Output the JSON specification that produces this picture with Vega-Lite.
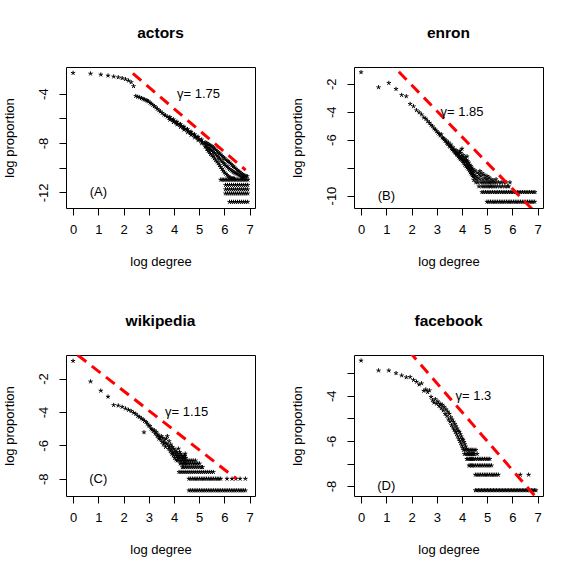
{
"$schema": "https://vega.github.io/schema/vega-lite/v6.json",
"background": "white",
"padding": {"left": 2, "top": 25, "right": 0, "bottom": 0},
"bounds": "flush",
"columns": 2,
"spacing": {"row": 147, "column": 99},
"datasets": {
"A": [
{"x":0,"y":-2.33},{"x":0.693,"y":-2.38},{"x":1.099,"y":-2.46},{"x":1.386,"y":-2.54},{"x":1.609,"y":-2.62},{"x":1.792,"y":-2.68},{"x":1.946,"y":-2.75},{"x":2.079,"y":-2.84},{"x":2.197,"y":-2.95},{"x":2.303,"y":-3.08},{"x":2.398,"y":-3.4},
{"x":2.485,"y":-4.2},{"x":2.565,"y":-4.26},{"x":2.64,"y":-4.31},{"x":2.71,"y":-4.37},{"x":2.77,"y":-4.43},{"x":2.83,"y":-4.48},{"x":2.89,"y":-4.53},{"x":2.94,"y":-4.58},{"x":2.99,"y":-4.64},{"x":3.05,"y":-4.74},{"x":3.1,"y":-4.83},{"x":3.16,"y":-4.92},{"x":3.22,"y":-5.02},{"x":3.28,"y":-5.12},{"x":3.34,"y":-5.24},{"x":3.4,"y":-5.35},{"x":3.46,"y":-5.45},{"x":3.53,"y":-5.57},{"x":3.6,"y":-5.7},{"x":3.66,"y":-5.77},{"x":3.73,"y":-5.87},{"x":3.8,"y":-5.97},{"x":3.87,"y":-6.06},{"x":3.94,"y":-6.16},{"x":4.01,"y":-6.25},{"x":4.08,"y":-6.35},{"x":4.15,"y":-6.44},{"x":4.22,"y":-6.54},{"x":4.29,"y":-6.63},{"x":4.36,"y":-6.74},{"x":4.43,"y":-6.85},{"x":4.5,"y":-6.95},{"x":4.57,"y":-7.05},{"x":4.64,"y":-7.16},{"x":4.71,"y":-7.26},{"x":4.78,"y":-7.37},{"x":4.85,"y":-7.47},{"x":4.92,"y":-7.58},{"x":4.99,"y":-7.7},{"x":5.06,"y":-7.82},{"x":5.13,"y":-7.94},{"x":5.2,"y":-8.06},{"x":5.27,"y":-8.19},
{"x":3.835,"y":-5.9},{"x":3.835,"y":-6.12},{"x":3.975,"y":-6.09},{"x":3.975,"y":-6.31},{"x":4.115,"y":-6.28},{"x":4.115,"y":-6.5},{"x":4.255,"y":-6.47},{"x":4.255,"y":-6.71},{"x":4.395,"y":-6.68},{"x":4.395,"y":-6.92},{"x":4.535,"y":-6.88},{"x":4.535,"y":-7.14},{"x":4.675,"y":-7.09},{"x":4.675,"y":-7.35},{"x":4.815,"y":-7.3},{"x":4.815,"y":-7.56},{"x":4.955,"y":-7.5},{"x":4.955,"y":-7.78},{"x":5.095,"y":-7.72},{"x":5.095,"y":-8.04},{"x":5.235,"y":-7.95},{"x":5.235,"y":-8.3},
{"x":5.3,"y":-8.0},{"x":5.3,"y":-8.25},{"x":5.3,"y":-8.5},{"x":5.35,"y":-8.1},{"x":5.35,"y":-8.4},{"x":5.35,"y":-8.65},{"x":5.4,"y":-8.15},{"x":5.4,"y":-8.45},{"x":5.4,"y":-8.75},{"x":5.45,"y":-8.22},{"x":5.45,"y":-8.55},{"x":5.45,"y":-8.9},{"x":5.5,"y":-8.28},{"x":5.5,"y":-8.62},{"x":5.5,"y":-9.0},{"x":5.55,"y":-8.35},{"x":5.55,"y":-8.72},{"x":5.55,"y":-9.1},{"x":5.6,"y":-8.45},{"x":5.6,"y":-8.82},{"x":5.6,"y":-9.25},{"x":5.65,"y":-8.55},{"x":5.65,"y":-8.92},{"x":5.65,"y":-9.4},{"x":5.7,"y":-8.65},{"x":5.7,"y":-9.02},{"x":5.7,"y":-9.5},{"x":5.75,"y":-8.75},{"x":5.75,"y":-9.15},{"x":5.75,"y":-9.65},{"x":5.8,"y":-8.85},{"x":5.8,"y":-9.27},{"x":5.8,"y":-9.8},{"x":5.85,"y":-8.95},{"x":5.85,"y":-9.4},{"x":5.85,"y":-9.95},{"x":5.9,"y":-9.05},{"x":5.9,"y":-9.5},{"x":5.9,"y":-10.1},{"x":5.95,"y":-9.15},{"x":5.95,"y":-9.62},{"x":5.95,"y":-10.25},{"x":6.0,"y":-9.25},{"x":6.0,"y":-9.72},{"x":6.0,"y":-10.4},{"x":6.05,"y":-9.35},{"x":6.05,"y":-9.85},{"x":6.05,"y":-10.5},{"x":6.1,"y":-9.45},{"x":6.1,"y":-9.92},{"x":6.1,"y":-10.6},{"x":6.15,"y":-9.5},{"x":6.15,"y":-10.02},{"x":6.15,"y":-10.7},{"x":6.2,"y":-9.6},{"x":6.2,"y":-10.12},{"x":6.2,"y":-10.8},{"x":6.25,"y":-9.7},{"x":6.25,"y":-10.2},{"x":6.25,"y":-10.83},{"x":6.3,"y":-9.8},{"x":6.3,"y":-10.27},{"x":6.3,"y":-10.86},{"x":6.35,"y":-9.9},{"x":6.35,"y":-10.36},{"x":6.35,"y":-10.88},{"x":6.4,"y":-10.0},{"x":6.4,"y":-10.42},{"x":6.4,"y":-10.9},{"x":6.45,"y":-10.1},{"x":6.45,"y":-10.47},{"x":6.5,"y":-10.2},{"x":6.5,"y":-10.52},{"x":6.55,"y":-10.28},{"x":6.55,"y":-10.58},{"x":6.6,"y":-10.35},{"x":6.6,"y":-10.64},{"x":6.65,"y":-10.45},{"x":6.65,"y":-10.72},{"x":6.7,"y":-10.52},{"x":6.7,"y":-10.77},{"x":6.75,"y":-10.6},{"x":6.75,"y":-10.82},{"x":6.8,"y":-10.65},{"x":6.8,"y":-10.86},{"x":6.85,"y":-10.68},{"x":6.9,"y":-10.7},
{"x":5.85,"y":-10.98},{"x":5.91,"y":-10.98},{"x":5.97,"y":-10.98},{"x":6.03,"y":-10.98},{"x":6.09,"y":-10.98},{"x":6.15,"y":-10.98},{"x":6.21,"y":-10.98},{"x":6.27,"y":-10.98},{"x":6.33,"y":-10.98},{"x":6.39,"y":-10.98},{"x":6.45,"y":-10.98},{"x":6.51,"y":-10.98},{"x":6.57,"y":-10.98},{"x":6.63,"y":-10.98},{"x":6.69,"y":-10.98},{"x":6.75,"y":-10.98},{"x":6.81,"y":-10.98},{"x":6.87,"y":-10.98},{"x":6.93,"y":-10.98},
{"x":6.04,"y":-11.41},{"x":6.12,"y":-11.41},{"x":6.2,"y":-11.41},{"x":6.28,"y":-11.41},{"x":6.36,"y":-11.41},{"x":6.44,"y":-11.41},{"x":6.52,"y":-11.41},{"x":6.6,"y":-11.41},{"x":6.68,"y":-11.41},{"x":6.76,"y":-11.41},{"x":6.84,"y":-11.41},{"x":6.92,"y":-11.41},
{"x":6.04,"y":-11.76},{"x":6.12,"y":-11.76},{"x":6.2,"y":-11.76},{"x":6.28,"y":-11.76},{"x":6.36,"y":-11.76},{"x":6.44,"y":-11.76},{"x":6.52,"y":-11.76},{"x":6.6,"y":-11.76},{"x":6.68,"y":-11.76},{"x":6.76,"y":-11.76},{"x":6.84,"y":-11.76},{"x":6.92,"y":-11.76},
{"x":6.04,"y":-12.1},{"x":6.12,"y":-12.1},{"x":6.2,"y":-12.1},{"x":6.28,"y":-12.1},{"x":6.36,"y":-12.1},{"x":6.44,"y":-12.1},{"x":6.52,"y":-12.1},{"x":6.6,"y":-12.1},{"x":6.68,"y":-12.1},{"x":6.76,"y":-12.1},{"x":6.84,"y":-12.1},{"x":6.92,"y":-12.1},
{"x":6.2,"y":-12.78},{"x":6.28,"y":-12.78},{"x":6.36,"y":-12.78},{"x":6.44,"y":-12.78},{"x":6.52,"y":-12.78},{"x":6.6,"y":-12.78},{"x":6.68,"y":-12.78},{"x":6.76,"y":-12.78},{"x":6.84,"y":-12.78},{"x":6.92,"y":-12.78}
],
"B": [
{"x":0,"y":-1.18},{"x":0.693,"y":-2.26},{"x":1.099,"y":-1.95},{"x":1.386,"y":-2.38},{"x":1.609,"y":-2.81},{"x":1.792,"y":-2.9},{"x":1.946,"y":-3.45},{"x":2.079,"y":-3.62},{"x":2.197,"y":-3.9},{"x":2.303,"y":-4.05},{"x":2.398,"y":-4.2},{"x":2.485,"y":-4.42},{"x":2.565,"y":-4.5},{"x":2.639,"y":-4.68},{"x":2.708,"y":-4.8},{"x":2.773,"y":-4.95},{"x":2.833,"y":-5.05},{"x":2.89,"y":-5.2},{"x":2.944,"y":-5.28},{"x":2.996,"y":-5.4},{"x":3.045,"y":-5.5},{"x":3.091,"y":-5.58},{"x":3.135,"y":-5.7},{"x":3.178,"y":-5.62},{"x":3.219,"y":-5.85},{"x":3.258,"y":-5.9},{"x":3.296,"y":-5.98},{"x":3.332,"y":-6.1},{"x":3.367,"y":-6.05},{"x":3.401,"y":-6.25},{"x":3.434,"y":-6.3},{"x":3.466,"y":-6.2},{"x":3.497,"y":-6.45},{"x":3.526,"y":-6.5},{"x":3.555,"y":-6.35},{"x":3.584,"y":-6.62},{"x":3.611,"y":-6.7},{"x":3.638,"y":-6.55},{"x":3.664,"y":-6.8},{"x":3.689,"y":-6.72},{"x":3.714,"y":-6.9},{"x":3.738,"y":-6.95},{"x":3.761,"y":-6.75},{"x":3.784,"y":-7.05},{"x":3.807,"y":-7.1},{"x":3.829,"y":-6.9},{"x":3.85,"y":-7.2},{"x":3.871,"y":-7.0},{"x":3.892,"y":-7.3},{"x":3.912,"y":-7.15},{"x":3.932,"y":-7.4},{"x":3.951,"y":-6.95},{"x":3.97,"y":-7.25},{"x":3.989,"y":-7.45},{"x":4.007,"y":-7.3},{"x":4.025,"y":-7.55},{"x":4.043,"y":-7.1},{"x":4.06,"y":-7.65},{"x":4.078,"y":-7.4},{"x":4.094,"y":-7.5},{"x":4.111,"y":-7.8},{"x":4.127,"y":-7.25},{"x":4.143,"y":-7.6},{"x":4.159,"y":-7.9},{"x":4.174,"y":-7.45},{"x":4.19,"y":-7.7},{"x":4.205,"y":-8.0},{"x":4.22,"y":-7.55},{"x":4.234,"y":-7.85},{"x":4.248,"y":-8.1},{"x":4.263,"y":-7.65},{"x":4.277,"y":-7.95},{"x":4.29,"y":-8.2},{"x":4.304,"y":-7.8},{"x":4.317,"y":-8.05},{"x":4.331,"y":-8.35},{"x":4.344,"y":-7.9},{"x":4.357,"y":-8.15},{"x":4.369,"y":-8.45},{"x":4.382,"y":-8.0},{"x":4.394,"y":-8.3},{"x":4.407,"y":-8.55},{"x":4.419,"y":-8.1},{"x":4.431,"y":-8.4},{"x":4.443,"y":-8.65},{"x":4.454,"y":-8.25},{"x":4.0,"y":-6.65},{"x":3.92,"y":-6.8},{"x":4.2,"y":-7.2},
{"x":4.47,"y":-8.5},{"x":4.47,"y":-8.9},{"x":4.51,"y":-8.2},{"x":4.51,"y":-8.75},{"x":4.55,"y":-8.6},{"x":4.55,"y":-9.06},{"x":4.59,"y":-8.35},{"x":4.59,"y":-8.85},{"x":4.63,"y":-8.7},{"x":4.63,"y":-9.06},{"x":4.67,"y":-8.45},{"x":4.67,"y":-9.35},{"x":4.71,"y":-8.25},{"x":4.71,"y":-8.84},{"x":4.75,"y":-8.6},{"x":4.75,"y":-9.06},{"x":4.79,"y":-8.4},{"x":4.79,"y":-9.35},{"x":4.83,"y":-8.84},{"x":4.83,"y":-9.06},{"x":4.87,"y":-8.5},{"x":4.87,"y":-9.35},{"x":4.91,"y":-8.7},{"x":4.91,"y":-9.06},{"x":4.95,"y":-8.84},{"x":4.95,"y":-9.35},{"x":4.99,"y":-8.6},{"x":4.99,"y":-9.06},{"x":5.03,"y":-8.84},{"x":5.03,"y":-9.35},{"x":5.07,"y":-8.7},{"x":5.07,"y":-9.06},{"x":5.11,"y":-9.06},{"x":5.11,"y":-9.35},{"x":5.15,"y":-8.84},{"x":5.15,"y":-9.35},{"x":5.19,"y":-9.06},{"x":5.23,"y":-8.9},{"x":5.23,"y":-9.35},{"x":5.27,"y":-9.06},{"x":5.31,"y":-9.35},{"x":5.35,"y":-8.84},{"x":5.35,"y":-9.06},{"x":5.4,"y":-9.35},{"x":5.45,"y":-9.06},{"x":5.5,"y":-9.35},{"x":5.55,"y":-9.06},{"x":5.6,"y":-9.35},{"x":5.65,"y":-9.06},{"x":5.7,"y":-9.35},{"x":5.75,"y":-9.06},{"x":5.8,"y":-9.35},{"x":5.85,"y":-9.35},{"x":5.9,"y":-9.06},
{"x":4.79,"y":-9.76},{"x":4.86,"y":-9.76},{"x":4.93,"y":-9.76},{"x":5.0,"y":-9.76},{"x":5.07,"y":-9.76},{"x":5.14,"y":-9.76},{"x":5.21,"y":-9.76},{"x":5.28,"y":-9.76},{"x":5.35,"y":-9.76},{"x":5.42,"y":-9.76},{"x":5.49,"y":-9.76},{"x":5.56,"y":-9.76},{"x":5.63,"y":-9.76},{"x":5.7,"y":-9.76},{"x":5.77,"y":-9.76},{"x":5.84,"y":-9.76},{"x":5.91,"y":-9.76},{"x":5.98,"y":-9.76},{"x":6.05,"y":-9.76},{"x":6.12,"y":-9.76},{"x":6.19,"y":-9.76},{"x":6.26,"y":-9.76},{"x":6.33,"y":-9.76},{"x":6.4,"y":-9.76},{"x":6.47,"y":-9.76},{"x":6.54,"y":-9.76},{"x":6.61,"y":-9.76},{"x":6.68,"y":-9.76},{"x":6.75,"y":-9.76},{"x":6.82,"y":-9.76},{"x":6.89,"y":-9.76},
{"x":4.99,"y":-10.45},{"x":5.06,"y":-10.45},{"x":5.13,"y":-10.45},{"x":5.2,"y":-10.45},{"x":5.27,"y":-10.45},{"x":5.34,"y":-10.45},{"x":5.41,"y":-10.45},{"x":5.48,"y":-10.45},{"x":5.55,"y":-10.45},{"x":5.62,"y":-10.45},{"x":5.69,"y":-10.45},{"x":5.76,"y":-10.45},{"x":5.83,"y":-10.45},{"x":5.9,"y":-10.45},{"x":5.97,"y":-10.45},{"x":6.04,"y":-10.45},{"x":6.11,"y":-10.45},{"x":6.18,"y":-10.45},{"x":6.25,"y":-10.45},{"x":6.32,"y":-10.45},{"x":6.39,"y":-10.45},{"x":6.46,"y":-10.45},{"x":6.53,"y":-10.45},{"x":6.6,"y":-10.45},{"x":6.67,"y":-10.45},{"x":6.74,"y":-10.45},{"x":6.81,"y":-10.45},{"x":6.88,"y":-10.45}
],
"C": [
{"x":0,"y":-0.95},{"x":0.693,"y":-2.18},{"x":1.099,"y":-2.73},{"x":1.386,"y":-3.09},{"x":1.609,"y":-3.59},{"x":1.792,"y":-3.62},{"x":1.946,"y":-3.7},{"x":2.079,"y":-3.8},{"x":2.197,"y":-3.88},{"x":2.303,"y":-3.95},{"x":2.398,"y":-4.05},{"x":2.485,"y":-4.12},{"x":2.565,"y":-4.25},{"x":2.639,"y":-4.3},{"x":2.708,"y":-4.4},{"x":2.773,"y":-4.45},{"x":2.833,"y":-4.55},{"x":2.89,"y":-4.6},{"x":2.944,"y":-4.7},{"x":2.996,"y":-4.82},{"x":3.045,"y":-4.85},{"x":3.091,"y":-5.0},{"x":3.135,"y":-5.05},{"x":3.178,"y":-5.15},{"x":3.219,"y":-5.1},{"x":3.258,"y":-5.3},{"x":3.296,"y":-5.2},{"x":3.332,"y":-5.45},{"x":3.367,"y":-5.35},{"x":3.401,"y":-5.6},{"x":3.434,"y":-5.5},{"x":2.81,"y":-5.22},
{"x":3.466,"y":-5.65},{"x":3.497,"y":-5.45},{"x":3.526,"y":-5.8},{"x":3.555,"y":-5.55},{"x":3.584,"y":-5.95},{"x":3.611,"y":-5.7},{"x":3.638,"y":-5.85},{"x":3.664,"y":-6.1},{"x":3.689,"y":-5.6},{"x":3.714,"y":-5.9},{"x":3.738,"y":-5.45},{"x":3.761,"y":-6.0},{"x":3.784,"y":-6.2},{"x":3.807,"y":-5.75},{"x":3.829,"y":-6.1},{"x":3.85,"y":-6.35},{"x":3.871,"y":-5.95},{"x":3.892,"y":-6.25},{"x":3.912,"y":-6.5},{"x":3.932,"y":-6.1},{"x":3.951,"y":-6.4},{"x":3.97,"y":-6.6},{"x":3.989,"y":-6.2},{"x":4.007,"y":-6.45},{"x":4.025,"y":-6.75},{"x":4.043,"y":-6.3},{"x":4.06,"y":-6.6},{"x":4.078,"y":-6.85},{"x":4.094,"y":-6.4},{"x":4.111,"y":-6.62},{"x":4.127,"y":-6.91},{"x":4.143,"y":-6.5},{"x":4.159,"y":-6.75},{"x":4.174,"y":-6.2},{"x":4.19,"y":-6.91},{"x":4.205,"y":-6.62},{"x":4.22,"y":-6.4},{"x":4.234,"y":-6.75},{"x":4.248,"y":-7.09},{"x":4.263,"y":-6.5},{"x":4.277,"y":-6.91},{"x":4.29,"y":-6.62},{"x":4.304,"y":-7.09},{"x":4.317,"y":-6.75},{"x":4.331,"y":-7.31},{"x":4.344,"y":-6.91},{"x":4.357,"y":-6.62},{"x":4.369,"y":-7.09},{"x":4.382,"y":-7.31},{"x":4.394,"y":-6.75},{"x":4.407,"y":-6.91},{"x":4.419,"y":-7.09},{"x":4.431,"y":-6.62},{"x":4.443,"y":-6.5},{"x":4.466,"y":-6.75},
{"x":4.45,"y":-6.91},{"x":4.52,"y":-6.91},{"x":4.6,"y":-6.91},{"x":4.68,"y":-6.91},{"x":4.76,"y":-6.91},{"x":4.85,"y":-6.91},
{"x":4.45,"y":-7.09},{"x":4.52,"y":-7.09},{"x":4.59,"y":-7.09},{"x":4.66,"y":-7.09},{"x":4.73,"y":-7.09},{"x":4.8,"y":-7.09},{"x":4.87,"y":-7.09},{"x":4.94,"y":-7.09},{"x":5.01,"y":-7.09},
{"x":4.45,"y":-7.31},{"x":4.52,"y":-7.31},{"x":4.6,"y":-7.31},{"x":4.68,"y":-7.31},{"x":4.76,"y":-7.31},{"x":4.84,"y":-7.31},{"x":4.92,"y":-7.31},{"x":5.0,"y":-7.31},{"x":5.08,"y":-7.31},{"x":5.13,"y":-7.31},
{"x":4.2,"y":-7.6},{"x":4.28,"y":-7.6},{"x":4.36,"y":-7.6},{"x":4.44,"y":-7.6},{"x":4.52,"y":-7.6},{"x":4.6,"y":-7.6},{"x":4.68,"y":-7.6},{"x":4.76,"y":-7.6},{"x":4.84,"y":-7.6},{"x":4.92,"y":-7.6},{"x":5.0,"y":-7.6},{"x":5.08,"y":-7.6},{"x":5.16,"y":-7.6},{"x":5.24,"y":-7.6},{"x":5.32,"y":-7.6},{"x":5.4,"y":-7.6},{"x":5.48,"y":-7.6},{"x":5.56,"y":-7.6},
{"x":4.59,"y":-8.0},{"x":4.66,"y":-8.0},{"x":4.73,"y":-8.0},{"x":4.8,"y":-8.0},{"x":4.87,"y":-8.0},{"x":4.94,"y":-8.0},{"x":5.01,"y":-8.0},{"x":5.08,"y":-8.0},{"x":5.15,"y":-8.0},{"x":5.22,"y":-8.0},{"x":5.29,"y":-8.0},{"x":5.36,"y":-8.0},{"x":5.43,"y":-8.0},{"x":5.5,"y":-8.0},{"x":5.57,"y":-8.0},{"x":5.64,"y":-8.0},{"x":5.71,"y":-8.0},{"x":5.78,"y":-8.0},{"x":5.85,"y":-8.0},{"x":6.1,"y":-8.0},{"x":6.3,"y":-8.0},{"x":6.45,"y":-8.0},{"x":6.62,"y":-8.0},{"x":6.83,"y":-8.0},
{"x":4.59,"y":-8.7},{"x":4.66,"y":-8.7},{"x":4.73,"y":-8.7},{"x":4.8,"y":-8.7},{"x":4.87,"y":-8.7},{"x":4.94,"y":-8.7},{"x":5.01,"y":-8.7},{"x":5.08,"y":-8.7},{"x":5.15,"y":-8.7},{"x":5.22,"y":-8.7},{"x":5.29,"y":-8.7},{"x":5.36,"y":-8.7},{"x":5.43,"y":-8.7},{"x":5.5,"y":-8.7},{"x":5.57,"y":-8.7},{"x":5.64,"y":-8.7},{"x":5.71,"y":-8.7},{"x":5.78,"y":-8.7},{"x":5.85,"y":-8.7},{"x":5.92,"y":-8.7},{"x":5.99,"y":-8.7},{"x":6.06,"y":-8.7},{"x":6.13,"y":-8.7},{"x":6.2,"y":-8.7},{"x":6.27,"y":-8.7},{"x":6.34,"y":-8.7},{"x":6.41,"y":-8.7},{"x":6.48,"y":-8.7},{"x":6.55,"y":-8.7},{"x":6.62,"y":-8.7},{"x":6.69,"y":-8.7},{"x":6.76,"y":-8.7},{"x":6.83,"y":-8.7}
],
"D": [
{"x":0,"y":-2.44},{"x":0.693,"y":-2.88},{"x":1.099,"y":-2.88},{"x":1.386,"y":-3.0},{"x":1.609,"y":-3.1},{"x":1.792,"y":-3.18},{"x":1.946,"y":-3.17},{"x":2.079,"y":-3.3},{"x":2.197,"y":-3.38},{"x":2.303,"y":-3.5},{"x":2.398,"y":-3.45},{"x":2.485,"y":-3.78},{"x":2.565,"y":-3.72},{"x":2.639,"y":-3.84},{"x":2.708,"y":-3.76},{"x":2.773,"y":-4.05},
{"x":2.833,"y":-4.2},{"x":2.89,"y":-4.3},{"x":2.944,"y":-4.15},{"x":2.996,"y":-4.35},{"x":3.045,"y":-4.25},{"x":3.091,"y":-4.45},{"x":3.135,"y":-4.35},{"x":3.178,"y":-4.55},{"x":3.219,"y":-4.4},{"x":3.258,"y":-4.65},{"x":3.296,"y":-4.5},{"x":3.332,"y":-4.8},{"x":3.367,"y":-4.6},{"x":3.401,"y":-4.9},{"x":3.434,"y":-4.7},{"x":3.466,"y":-5.05},{"x":3.497,"y":-4.8},{"x":3.526,"y":-5.15},{"x":3.555,"y":-4.95},{"x":3.584,"y":-5.3},{"x":3.611,"y":-5.05},{"x":3.638,"y":-5.4},{"x":3.664,"y":-5.15},{"x":3.689,"y":-5.5},{"x":3.714,"y":-5.25},{"x":3.738,"y":-5.6},{"x":3.761,"y":-5.35},{"x":3.784,"y":-5.7},{"x":3.807,"y":-5.45},{"x":3.829,"y":-5.8},{"x":3.85,"y":-5.55},{"x":3.871,"y":-5.9},{"x":3.892,"y":-5.6},{"x":3.912,"y":-6.0},{"x":3.932,"y":-5.7},{"x":3.951,"y":-6.1},{"x":3.97,"y":-5.8},{"x":3.989,"y":-6.2},{"x":4.007,"y":-5.9},{"x":4.025,"y":-6.3},{"x":4.043,"y":-5.95},{"x":4.06,"y":-6.4},{"x":4.078,"y":-6.05},{"x":4.094,"y":-6.58},{"x":4.111,"y":-6.15},{"x":4.127,"y":-6.4},{"x":4.143,"y":-6.25},{"x":4.159,"y":-6.58},{"x":4.174,"y":-6.35},{"x":4.19,"y":-6.8},{"x":4.205,"y":-6.4},{"x":4.22,"y":-6.58},{"x":4.234,"y":-6.8},{"x":4.248,"y":-6.4},{"x":4.263,"y":-6.58},{"x":4.277,"y":-7.09},{"x":4.29,"y":-6.8},{"x":4.304,"y":-6.58},{"x":4.317,"y":-6.4},{"x":4.331,"y":-6.8},{"x":4.344,"y":-6.58},{"x":4.357,"y":-6.4},{"x":4.369,"y":-6.8},{"x":4.382,"y":-6.58},{"x":4.394,"y":-7.09},{"x":4.407,"y":-6.4},{"x":4.419,"y":-6.58},{"x":4.431,"y":-6.8},{"x":4.454,"y":-6.58},{"x":4.477,"y":-6.4},{"x":4.5,"y":-6.58},{"x":4.55,"y":-6.4},{"x":4.6,"y":-6.58},
{"x":4.4,"y":-6.8},{"x":4.47,"y":-6.8},{"x":4.54,"y":-6.8},{"x":4.61,"y":-6.8},{"x":4.68,"y":-6.8},{"x":4.75,"y":-6.8},{"x":4.82,"y":-6.8},{"x":4.89,"y":-6.8},{"x":4.96,"y":-6.8},{"x":5.03,"y":-6.8},{"x":5.1,"y":-6.8},
{"x":4.33,"y":-7.09},{"x":4.4,"y":-7.09},{"x":4.47,"y":-7.09},{"x":4.54,"y":-7.09},{"x":4.61,"y":-7.09},{"x":4.68,"y":-7.09},{"x":4.75,"y":-7.09},{"x":4.82,"y":-7.09},{"x":4.89,"y":-7.09},{"x":4.96,"y":-7.09},{"x":5.03,"y":-7.09},{"x":5.1,"y":-7.09},{"x":5.17,"y":-7.09},
{"x":4.53,"y":-7.5},{"x":4.6,"y":-7.5},{"x":4.67,"y":-7.5},{"x":4.74,"y":-7.5},{"x":4.81,"y":-7.5},{"x":4.88,"y":-7.5},{"x":4.95,"y":-7.5},{"x":5.02,"y":-7.5},{"x":5.09,"y":-7.5},{"x":5.16,"y":-7.5},{"x":5.23,"y":-7.5},{"x":5.3,"y":-7.5},{"x":5.37,"y":-7.5},{"x":5.44,"y":-7.5},{"x":6.31,"y":-7.5},{"x":6.64,"y":-7.5},
{"x":4.53,"y":-8.19},{"x":4.59,"y":-8.19},{"x":4.65,"y":-8.19},{"x":4.71,"y":-8.19},{"x":4.77,"y":-8.19},{"x":4.83,"y":-8.19},{"x":4.89,"y":-8.19},{"x":4.95,"y":-8.19},{"x":5.01,"y":-8.19},{"x":5.07,"y":-8.19},{"x":5.13,"y":-8.19},{"x":5.19,"y":-8.19},{"x":5.25,"y":-8.19},{"x":5.31,"y":-8.19},{"x":5.37,"y":-8.19},{"x":5.43,"y":-8.19},{"x":5.49,"y":-8.19},{"x":5.55,"y":-8.19},{"x":5.61,"y":-8.19},{"x":5.67,"y":-8.19},{"x":5.73,"y":-8.19},{"x":5.79,"y":-8.19},{"x":5.85,"y":-8.19},{"x":5.91,"y":-8.19},{"x":5.97,"y":-8.19},{"x":6.03,"y":-8.19},{"x":6.09,"y":-8.19},{"x":6.15,"y":-8.19},{"x":6.21,"y":-8.19},{"x":6.27,"y":-8.19},{"x":6.33,"y":-8.19},{"x":6.39,"y":-8.19},{"x":6.45,"y":-8.19},{"x":6.51,"y":-8.19},{"x":6.57,"y":-8.19},{"x":6.63,"y":-8.19},{"x":6.69,"y":-8.19},{"x":6.75,"y":-8.19},{"x":6.81,"y":-8.19},{"x":6.87,"y":-8.19},{"x":6.93,"y":-8.19}
]
},
"concat": [
{
"width": 189, "height": 141,
"title": "actors",
"encoding": {
"x": {"field": "x", "type": "quantitative", "title": "log degree", "scale": {"domain": [-0.28, 7.21], "nice": false, "zero": false}, "axis": {"values": [0,1,2,3,4,5,6,7], "labelExpr": "'' + datum.value"}},
"y": {"field": "y", "type": "quantitative", "title": "log proportion", "scale": {"domain": [-13.27, -1.84], "nice": false, "zero": false}, "axis": {"values": [-12,-10,-8,-6,-4], "labelExpr": "datum.value % 4 == 0 ? '' + datum.value : ''"}}
},
"layer": [
{"data": {"name": "A"}, "mark": {"type": "point", "shape": "M0,0L0,-1M0,0L0.951,-0.309M0,0L0.588,0.809M0,0L-0.588,0.809M0,0L-0.951,-0.309", "filled": false, "stroke": "black", "strokeWidth": 1, "size": 20, "opacity": 1}},
{"data": {"values": [{"x": 2.37, "y": -2.36}, {"x": 6.84, "y": -10.2}]}, "mark": {"type": "line", "color": "#ff0000", "strokeWidth": 3, "strokeDash": [11, 7], "clip": true}},
{"data": {"values": [{"x": 4.97, "y": -4.0, "t": "γ= 1.75"}, {"x": 1, "y": -12, "t": "(A)"}]}, "mark": {"type": "text", "fontSize": 13, "font": "Liberation Sans", "baseline": "middle", "align": "center", "color": "black"}, "encoding": {"text": {"field": "t"}}}
]
},
{
"width": 189, "height": 141,
"title": "enron",
"encoding": {
"x": {"field": "x", "type": "quantitative", "title": "log degree", "scale": {"domain": [-0.28, 7.21], "nice": false, "zero": false}, "axis": {"values": [0,1,2,3,4,5,6,7], "labelExpr": "'' + datum.value"}},
"y": {"field": "y", "type": "quantitative", "title": "log proportion", "scale": {"domain": [-10.89, -0.8], "nice": false, "zero": false}, "axis": {"values": [-10,-8,-6,-4,-2], "labelExpr": "datum.value == -8 ? '' : '' + datum.value"}}
},
"layer": [
{"data": {"name": "B"}, "mark": {"type": "point", "shape": "M0,0L0,-1M0,0L0.951,-0.309M0,0L0.588,0.809M0,0L-0.588,0.809M0,0L-0.951,-0.309", "filled": false, "stroke": "black", "strokeWidth": 1, "size": 20, "opacity": 1}},
{"data": {"values": [{"x": 1.0, "y": -0.22}, {"x": 7.0, "y": -11.38}]}, "mark": {"type": "line", "color": "#ff0000", "strokeWidth": 3, "strokeDash": [11, 7], "clip": true}},
{"data": {"values": [{"x": 4.0, "y": -4.0, "t": "γ= 1.85"}, {"x": 1, "y": -10, "t": "(B)"}]}, "mark": {"type": "text", "fontSize": 13, "font": "Liberation Sans", "baseline": "middle", "align": "center", "color": "black"}, "encoding": {"text": {"field": "t"}}}
]
},
{
"width": 189, "height": 141,
"title": "wikipedia",
"encoding": {
"x": {"field": "x", "type": "quantitative", "title": "log degree", "scale": {"domain": [-0.28, 7.21], "nice": false, "zero": false}, "axis": {"values": [0,1,2,3,4,5,6,7], "labelExpr": "'' + datum.value"}},
"y": {"field": "y", "type": "quantitative", "title": "log proportion", "scale": {"domain": [-9.03, -0.59], "nice": false, "zero": false}, "axis": {"values": [-8,-6,-4,-2], "labelExpr": "'' + datum.value"}}
},
"layer": [
{"data": {"name": "C"}, "mark": {"type": "point", "shape": "M0,0L0,-1M0,0L0.951,-0.309M0,0L0.588,0.809M0,0L-0.588,0.809M0,0L-0.951,-0.309", "filled": false, "stroke": "black", "strokeWidth": 1, "size": 20, "opacity": 1}},
{"data": {"values": [{"x": 0.18, "y": -0.59}, {"x": 6.47, "y": -8.0}]}, "mark": {"type": "line", "color": "#ff0000", "strokeWidth": 3, "strokeDash": [11, 7], "clip": true}},
{"data": {"values": [{"x": 4.5, "y": -4.0, "t": "γ= 1.15"}, {"x": 1, "y": -8, "t": "(C)"}]}, "mark": {"type": "text", "fontSize": 13, "font": "Liberation Sans", "baseline": "middle", "align": "center", "color": "black"}, "encoding": {"text": {"field": "t"}}}
]
},
{
"width": 189, "height": 141,
"title": "facebook",
"encoding": {
"x": {"field": "x", "type": "quantitative", "title": "log degree", "scale": {"domain": [-0.28, 7.21], "nice": false, "zero": false}, "axis": {"values": [0,1,2,3,4,5,6,7], "labelExpr": "'' + datum.value"}},
"y": {"field": "y", "type": "quantitative", "title": "log proportion", "scale": {"domain": [-8.44, -2.19], "nice": false, "zero": false}, "axis": {"values": [-8,-7,-6,-5,-4,-3], "labelExpr": "datum.value % 2 == 0 ? '' + datum.value : ''"}}
},
"layer": [
{"data": {"name": "D"}, "mark": {"type": "point", "shape": "M0,0L0,-1M0,0L0.951,-0.309M0,0L0.588,0.809M0,0L-0.588,0.809M0,0L-0.951,-0.309", "filled": false, "stroke": "black", "strokeWidth": 1, "size": 20, "opacity": 1}},
{"data": {"values": [{"x": 1.9, "y": -2.02}, {"x": 7.0, "y": -8.58}]}, "mark": {"type": "line", "color": "#ff0000", "strokeWidth": 3, "strokeDash": [11, 7], "clip": true}},
{"data": {"values": [{"x": 4.45, "y": -4.0, "t": "γ= 1.3"}, {"x": 1, "y": -8, "t": "(D)"}]}, "mark": {"type": "text", "fontSize": 13, "font": "Liberation Sans", "baseline": "middle", "align": "center", "color": "black"}, "encoding": {"text": {"field": "t"}}}
]
}
],
"config": {
"view": {"stroke": "black", "strokeWidth": 1},
"font": "Liberation Sans",
"axis": {"grid": false, "domain": false, "ticks": true, "tickColor": "black", "tickSize": 7, "tickWidth": 1, "labelFont": "Liberation Sans", "labelFontSize": 13, "labelColor": "black", "titleFont": "Liberation Sans", "titleFontSize": 13, "titleFontWeight": "normal", "titleColor": "black", "labelOverlap": false, "labelFlush": false},
"axisX": {"labelPadding": 8, "labelBaseline": "top", "labelAngle": 0, "titleY": 57.5, "titleBaseline": "alphabetic"},
"axisY": {"labelAngle": 270, "labelAlign": "center", "labelBaseline": "alphabetic", "labelPadding": 12, "titleAngle": 270, "titleX": -53, "titleY": 70.5, "titleAlign": "center", "titleBaseline": "alphabetic"},
"title": {"font": "Liberation Sans", "fontSize": 15.5, "fontWeight": "bold", "color": "black", "offset": 26, "baseline": "alphabetic", "anchor": "middle"}
}
}
